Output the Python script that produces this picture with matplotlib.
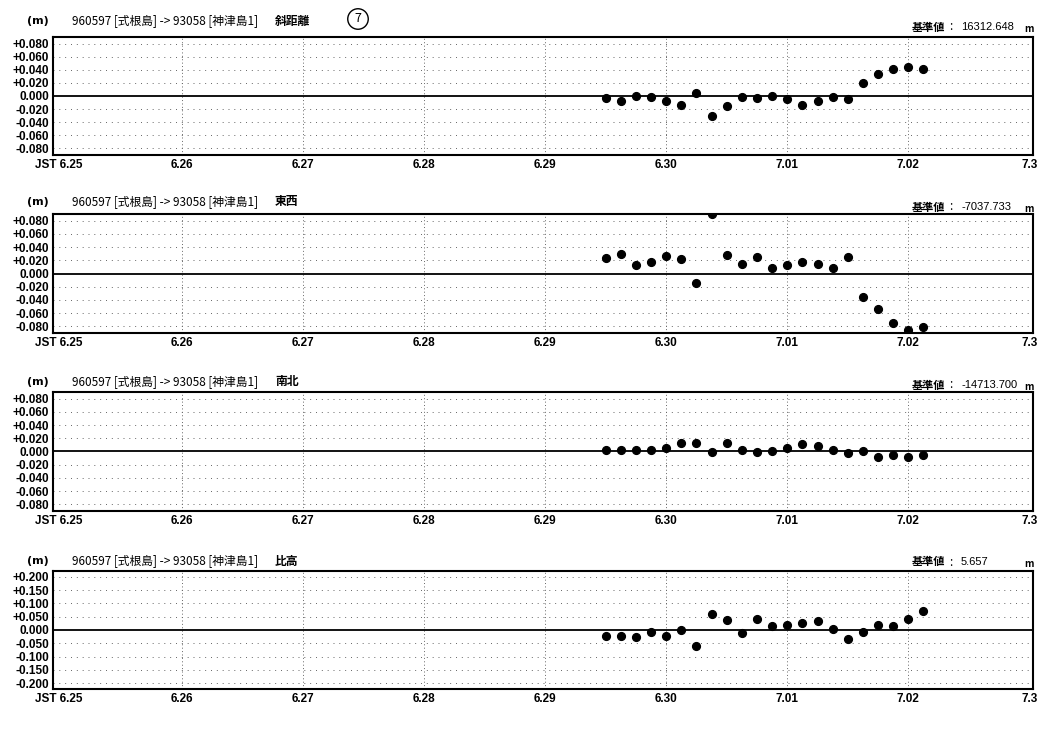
import matplotlib
matplotlib.use("Agg")
import matplotlib.pyplot as plt
import numpy as np

plt.rcParams['font.family'] = ['Noto Sans CJK JP', 'DejaVu Sans']

# ---- data ----
# time axis: days since 6.25 00:00 (JST); observations every 3 hours
day_labels = ["6.25", "6.26", "6.27", "6.28", "6.29", "6.30", "7.01", "7.02", "7.3"]
obs_start_day = 4.5      # 6.29 12:00
obs_step_day = 0.125     # 3 hours
n_obs = 22

station_title = "960597 [式根島] -> 93058 [神津島1]"
component_names = ["斜距離", "東西", "南北", "比高"]
base_values = ["16312.648", "-7037.733", "-14713.700", "5.657"]

slope_dist = [-0.003, -0.007, 0.000, -0.002, -0.008, -0.013, 0.004, -0.030, -0.015, -0.002, -0.003,
              0.000, -0.004, -0.013, -0.007, -0.002, -0.004, 0.020, 0.033, 0.041, 0.045, 0.041]
east_west = [0.023, 0.029, 0.013, 0.017, 0.027, 0.022, -0.015, 0.090, 0.028, 0.015, 0.025,
             0.009, 0.013, 0.017, 0.014, 0.008, 0.025, -0.035, -0.054, -0.075, -0.085, -0.081]
north_south = [0.002, 0.002, 0.003, 0.003, 0.005, 0.013, 0.013, -0.001, 0.013, 0.003, -0.001,
               0.001, 0.005, 0.011, 0.008, 0.003, -0.002, 0.000, -0.008, -0.005, -0.008, -0.005]
height = [-0.021, -0.021, -0.026, -0.009, -0.023, 0.000, -0.060, 0.062, 0.036, -0.012, 0.043,
          0.014, 0.018, 0.028, 0.033, 0.004, -0.035, -0.009, 0.020, 0.014, 0.040, 0.070]

series = [slope_dist, east_west, north_south, height]
ytick_sets = [
    [0.08, 0.06, 0.04, 0.02, 0.0, -0.02, -0.04, -0.06, -0.08],
    [0.08, 0.06, 0.04, 0.02, 0.0, -0.02, -0.04, -0.06, -0.08],
    [0.08, 0.06, 0.04, 0.02, 0.0, -0.02, -0.04, -0.06, -0.08],
    [0.2, 0.15, 0.1, 0.05, 0.0, -0.05, -0.1, -0.15, -0.2],
]
ylims = [0.09, 0.09, 0.09, 0.222]

# ---- layout (pixels) ----
W, H = 1061, 730
fig = plt.figure(figsize=(W / 100, H / 100), dpi=100)
ax_left, ax_right = 53, 1033
panel_tops = [37, 214, 392, 571]
panel_bottoms = [155, 333, 511, 689]
left_header_y = [21, 202, 382, 561]
right_header_y = [27, 207, 385, 562]

NUMF = ['Liberation Sans', 'DejaVu Sans']
xs = obs_start_day + obs_step_day * np.arange(n_obs)

def fx(px):
    return px / W

def fy(py):
    return 1 - py / H

for i in range(4):
    ax = fig.add_axes([fx(ax_left), fy(panel_bottoms[i]), fx(ax_right - ax_left),
                       (panel_bottoms[i] - panel_tops[i]) / H])
    ax.set_xlim(-0.066, 8.03)
    ax.set_ylim(-ylims[i], ylims[i])
    # dotted grid
    for yv in ytick_sets[i]:
        if yv != 0:
            ax.axhline(yv, color='#666666', lw=0.7, ls=(0, (1, 5)), zorder=1)
    for d in range(1, 8):
        ax.axvline(d, color='#666666', lw=0.7, ls=(0, (1, 2.5)), zorder=1)
    ax.axhline(0, color='black', lw=1.3, zorder=2)
    ax.plot(xs, series[i], 'o', color='black', ms=5.6, zorder=3, clip_on=True)

    ax.set_yticks(ytick_sets[i])
    ylabels = [("+%.3f" % v) if v > 0 else ("%.3f" % v) for v in ytick_sets[i]]
    ylabels = [l.replace("-0.000", "0.000") for l in ylabels]
    ax.set_yticklabels(ylabels, fontsize=8.5, family=NUMF, fontweight='bold')
    ax.set_xticks(range(9))
    ax.set_xticklabels([""] + day_labels[1:], fontsize=8.5, family=NUMF, fontweight='bold')
    ax.tick_params(length=0, pad=3)
    for s in ax.spines.values():
        s.set_linewidth(1.5)
    fig.text(fx(35), fy(panel_bottoms[i] + 4.2), "JST " + day_labels[0], ha='left', va='top',
             fontsize=8.5, family=NUMF, fontweight='bold')

    # headers
    fig.text(fx(38), fy(left_header_y[i]), "(m)", ha='center', va='center', fontsize=8,
             fontweight='bold', family=['DejaVu Sans'])
    fig.text(fx(72), fy(left_header_y[i]), station_title, ha='left', va='center', fontsize=8.5)
    fig.text(fx(275), fy(left_header_y[i]), component_names[i], ha='left', va='center', fontsize=8.5,
             fontweight='bold')
    fig.text(fx(912), fy(right_header_y[i]), "基準値", ha='left', va='center', fontsize=8,
             fontweight='bold')
    fig.text(fx(951), fy(right_header_y[i]), ":", ha='center', va='center', fontsize=8.5)
    fig.text(fx(961), fy(right_header_y[i]), base_values[i], ha='left', va='center', fontsize=8,
             family=NUMF)
    fig.text(fx(1029), fy(right_header_y[i] + 2), "m", ha='center', va='center', fontsize=7,
             fontweight='bold')

fig.text(fx(358), fy(19), "7", ha='center', va='center', fontsize=9,
         bbox=dict(boxstyle='circle,pad=0.3', fc='none', ec='black', lw=1))

fig.savefig("out.png", dpi=100, facecolor='white')
